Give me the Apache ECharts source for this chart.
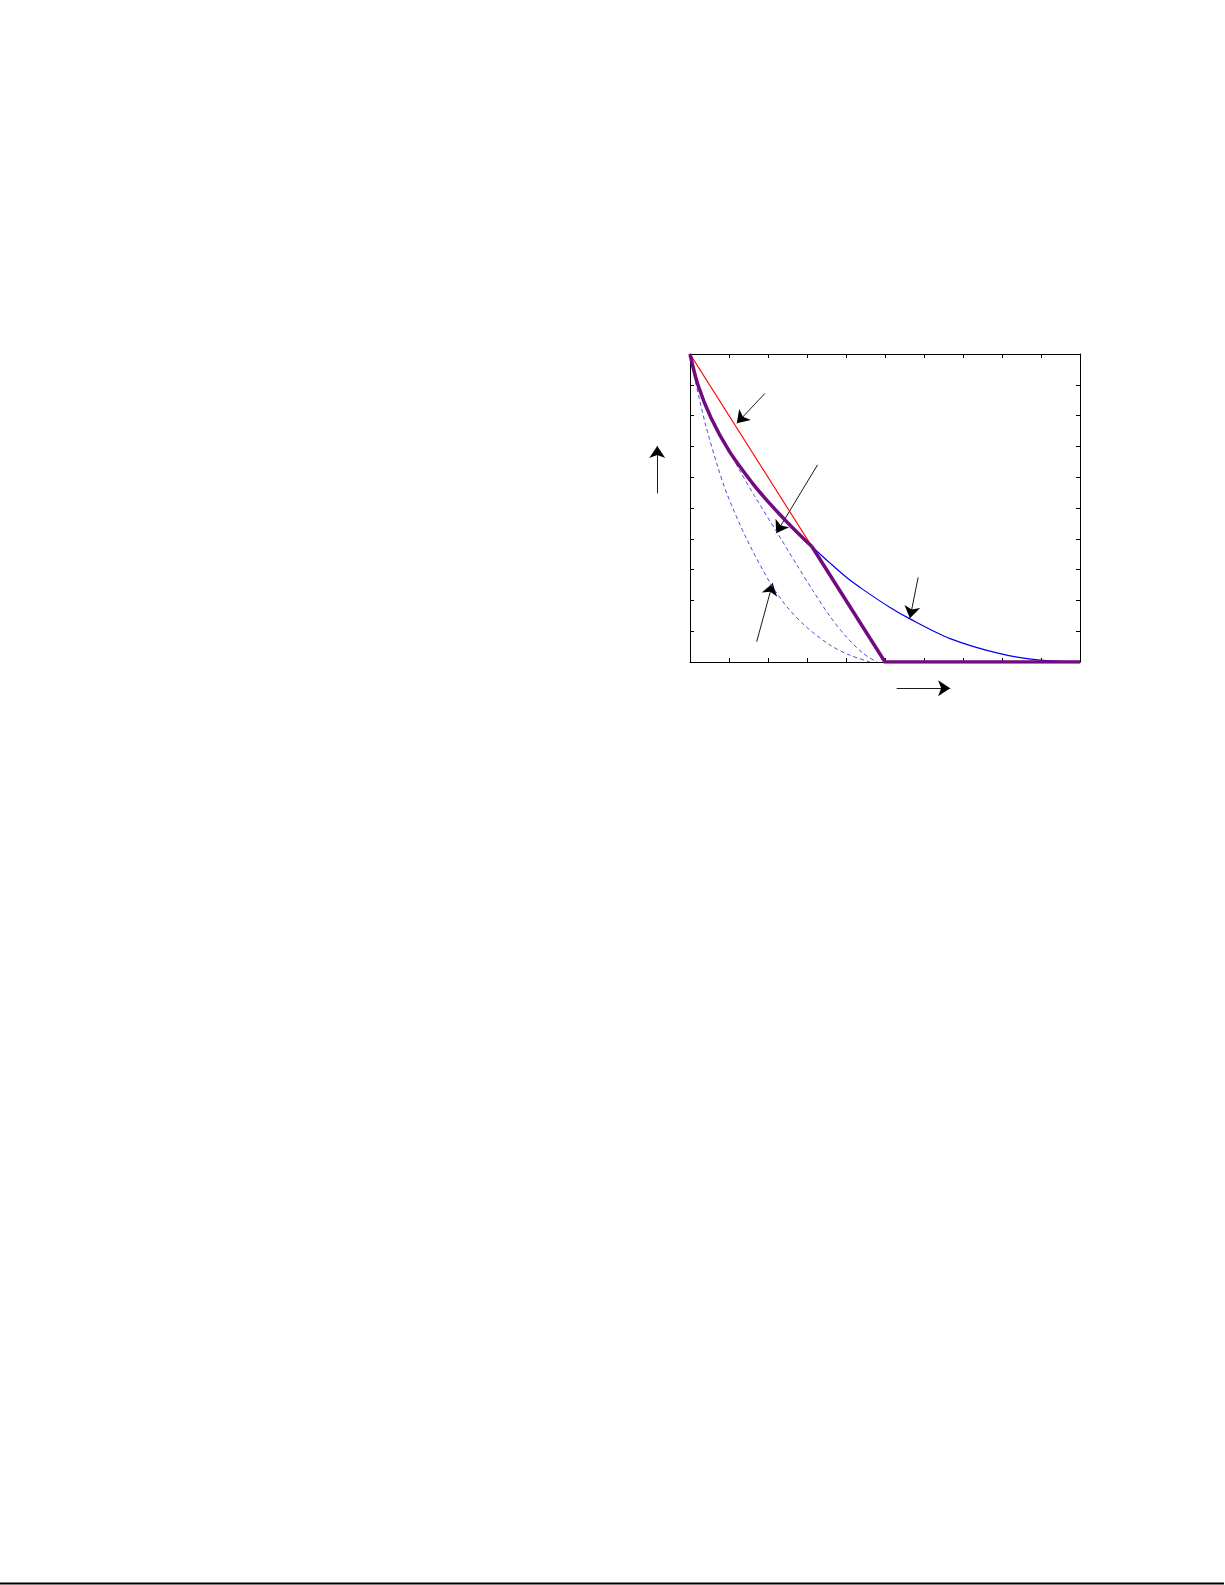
<!DOCTYPE html>
<html>
<head>
<meta charset="utf-8">
<script src="https://cdn.jsdelivr.net/npm/echarts@6/dist/echarts.min.js"></script>
<style>
  html, body { margin: 0; padding: 0; background: #ffffff; }
  #chart { width: 1225px; height: 1585px; }
</style>
</head>
<body>
<div id="chart"></div>
<script>
// ---- data ----
const redLine = [[0, 1], [0.3125, 0.375]];
const blueCurve = [[0.3125, 0.375], [0.359, 0.321], [0.40, 0.276], [0.444, 0.235], [0.513, 0.177],
  [0.564, 0.140], [0.667, 0.076], [0.795, 0.027], [0.897, 0.006], [1, 0]];
const dashedOuter = [[0, 1], [0.02, 0.902], [0.054, 0.795], [0.079, 0.735], [0.126, 0.625], [0.165, 0.540],
  [0.222, 0.423], [0.274, 0.315], [0.316, 0.230], [0.359, 0.148], [0.402, 0.080], [0.444, 0.028], [0.479, 0]];
const dashedInner = [[0, 1], [0.015, 0.905], [0.041, 0.765], [0.071, 0.635], [0.095, 0.545], [0.145, 0.400],
  [0.205, 0.258], [0.248, 0.180], [0.299, 0.113], [0.359, 0.055], [0.410, 0.022], [0.462, 0]];
const purpleCurve = [[0, 1], [0.020, 0.901], [0.054, 0.792], [0.101, 0.684], [0.161, 0.579], [0.195, 0.528],
  [0.231, 0.478], [0.256, 0.445], [0.291, 0.401], [0.3125, 0.375]];
const purpleStraight = [[0.3125, 0.375], [0.5, 0], [1, 0]];
// annotation arrows: [start, tip] in data units
const arrows = [
  [[0.192, 0.872], [0.120, 0.775]],
  [[0.327, 0.640], [0.221, 0.418]],
  [[0.171, 0.066], [0.212, 0.256]],
  [[0.585, 0.275], [0.564, 0.142]],
  [[-0.084, 0.548], [-0.084, 0.701]],
  [[0.530, -0.085], [0.667, -0.085]]
];
const xTicks = { min: 0, max: 1, interval: 0.1 };
const yTicks = { min: 0, max: 1, interval: 0.1 };

const chart = echarts.init(document.getElementById('chart'), null, { renderer: 'canvas' });

function axis(pos, t) {
  return {
    type: 'value', position: pos, min: t.min, max: t.max, interval: t.interval,
    axisLine: { show: true, onZero: false, lineStyle: { color: '#000', width: 1 } },
    axisTick: { show: true, inside: true, length: 4, lineStyle: { color: '#000', width: 1 } },
    axisLabel: { show: false },
    splitLine: { show: false }
  };
}

const option = {
  backgroundColor: '#ffffff',
  animation: false,
  grid: { left: 690, top: 354, width: 390, height: 308, containLabel: false },
  xAxis: [axis('bottom', xTicks), axis('top', xTicks)],
  yAxis: [axis('left', yTicks), axis('right', yTicks)],
  graphic: [{
    type: 'line', shape: { x1: 0, y1: 1583.5, x2: 1224, y2: 1583.5 },
    style: { stroke: '#000', lineWidth: 2 }
  }],
  series: [
    { type: 'line', data: dashedInner, smooth: 0.3, showSymbol: false, silent: true,
      lineStyle: { color: '#4f4fdc', width: 1, type: [4, 3] } },
    { type: 'line', data: dashedOuter, smooth: 0.3, showSymbol: false, silent: true,
      lineStyle: { color: '#4f4fdc', width: 1, type: [4, 3] } },
    { type: 'line', data: blueCurve, smooth: 0.3, showSymbol: false, silent: true,
      lineStyle: { color: '#0000ee', width: 1.2 } },
    { type: 'line', data: redLine, showSymbol: false, silent: true,
      lineStyle: { color: '#ff0000', width: 1.2 } },
    { type: 'line', data: purpleCurve, smooth: 0.3, showSymbol: false, silent: true,
      lineStyle: { color: '#720a80', width: 3.5 } },
    { type: 'line', data: purpleStraight, showSymbol: false, silent: true,
      lineStyle: { color: '#720a80', width: 3.5, join: 'miter' } },
    { type: 'lines', coordinateSystem: 'cartesian2d', clip: false, silent: true,
      symbol: ['none', 'arrow'], symbolSize: [8, 12],
      lineStyle: { color: '#000', width: 0.9, opacity: 1 },
      itemStyle: { color: '#000' },
      data: arrows.map(a => ({ coords: [a[0], a[1]] })) }
  ]
};
chart.setOption(option);
</script>
</body>
</html>
